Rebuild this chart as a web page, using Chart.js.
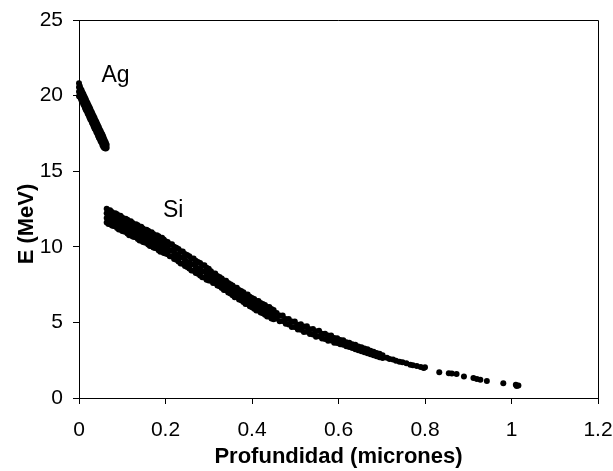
<!DOCTYPE html>
<html>
<head>
<meta charset="utf-8">
<script src="https://cdn.jsdelivr.net/npm/chart.js@4/dist/chart.umd.min.js"></script>
<style>
html,body{margin:0;padding:0;background:#fff;}
#wrap{width:613px;height:471px;}
</style>
</head>
<body>
<div id="wrap"><canvas id="c" width="613" height="471"></canvas></div>
<script>
// ---- data ----
const xTickLabels = ['0','0.2','0.4','0.6','0.8','1','1.2'];
const yTickLabels = ['0','5','10','15','20','25'];
const xTitle = 'Profundidad (micrones)';
const yTitle = 'E (MeV)';

// Ag: [x, y1, y2, ...]
const agRows = [
[0.000,20.82,20.55,20.25,19.95],
[0.002,20.62,20.27,19.92],
[0.004,20.44,20.12,19.81],
[0.006,20.35,20.03,19.66],
[0.008,20.20,19.86,19.57],
[0.010,20.10,19.78,19.42],
[0.012,19.97,19.62,19.33],
[0.014,19.86,19.54,19.17],
[0.016,19.74,19.42,19.05],
[0.018,19.59,19.25,18.96],
[0.020,19.49,19.17,18.81],
[0.022,19.36,19.01,18.72],
[0.024,19.25,18.93,18.56],
[0.026,19.13,18.81,18.44],
[0.028,18.98,18.64,18.35],
[0.030,18.88,18.56,18.20],
[0.032,18.75,18.40,18.11],
[0.034,18.64,18.32,17.95],
[0.036,18.52,18.20,17.83],
[0.038,18.37,18.03,17.74],
[0.040,18.27,17.95,17.59],
[0.042,18.14,17.79,17.50],
[0.044,18.03,17.71,17.34],
[0.046,17.91,17.59,17.22],
[0.048,17.76,17.42,17.13],
[0.050,17.66,17.34,16.98],
[0.052,17.53,17.18,16.89],
[0.054,17.42,17.10,16.73],
[0.056,17.30,16.98,16.61],
[0.058,17.15,16.81,16.55],
[0.060,17.02,16.73,16.52],
[0.062,16.90,16.62,16.50],
[0.064,16.75,16.55]
];

// Si, first (thick) part
const siRowsA = [
[0.064,12.52,12.22,11.90,11.61],
[0.068,12.40,12.12,11.85,11.50],
[0.072,12.42,12.12,11.82,11.51],
[0.076,12.30,11.98,11.68,11.41],
[0.080,12.19,11.98,11.68,11.38],
[0.084,12.22,11.89,11.58,11.36],
[0.088,12.15,11.85,11.53,11.24],
[0.092,12.04,11.76,11.49,11.14],
[0.096,12.06,11.76,11.46,11.15],
[0.100,11.94,11.62,11.32,11.05],
[0.104,11.83,11.62,11.32,11.02],
[0.108,11.86,11.53,11.22,11.00],
[0.112,11.79,11.49,11.17,10.88],
[0.116,11.67,11.39,11.12,10.77],
[0.120,11.69,11.39,11.09,10.78],
[0.124,11.57,11.25,10.95,10.68],
[0.128,11.46,11.25,10.95,10.65],
[0.132,11.49,11.16,10.85,10.63],
[0.136,11.42,11.12,10.80,10.51],
[0.140,11.31,11.03,10.76,10.41],
[0.144,11.33,11.03,10.73,10.42],
[0.148,11.21,10.89,10.59,10.32],
[0.152,11.10,10.89,10.59,10.29],
[0.156,11.13,10.80,10.49,10.27],
[0.160,11.06,10.76,10.44,10.15],
[0.164,10.95,10.67,10.40,10.05],
[0.168,10.96,10.66,10.36,10.05],
[0.172,10.84,10.52,10.22,9.95],
[0.176,10.73,10.52,10.22,9.92],
[0.180,10.76,10.43,10.12,9.90],
[0.184,10.69,10.39,10.07,9.78],
[0.188,10.58,10.30,10.03,9.68],
[0.192,10.60,10.30,10.00,9.69],
[0.196,10.48,10.16,9.86,9.59],
[0.200,10.37,10.16,9.86,9.56]
];

// Si, middle part
const siRowsB = [
[0.205,10.32,9.92,9.50],
[0.210,10.17,9.78,9.37],
[0.215,10.17,9.77,9.36],
[0.220,10.00,9.62,9.20],
[0.225,9.93,9.48,9.15],
[0.230,9.85,9.45,9.03],
[0.235,9.70,9.31,8.90],
[0.240,9.69,9.29,8.88],
[0.245,9.53,9.15,8.73],
[0.250,9.45,9.00,8.67],
[0.255,9.38,8.98,8.56],
[0.260,9.23,8.84,8.43],
[0.265,9.23,8.83,8.42],
[0.270,9.07,8.69,8.27],
[0.275,9.00,8.55,8.22],
[0.280,8.93,8.53,8.11],
[0.285,8.78,8.39,7.98],
[0.290,8.78,8.38,7.97],
[0.295,8.62,8.24,7.82],
[0.300,8.55,8.10,7.77],
[0.305,8.39,8.08,7.75],
[0.310,8.24,7.93,7.61],
[0.315,8.23,7.91,7.60],
[0.320,8.07,7.77,7.44],
[0.325,8.00,7.64,7.39],
[0.330,7.91,7.60,7.27],
[0.335,7.77,7.46,7.14],
[0.340,7.75,7.43,7.12],
[0.345,7.60,7.30,6.97],
[0.350,7.52,7.16,6.91],
[0.355,7.44,7.13,6.80],
[0.360,7.30,6.99,6.67],
[0.365,7.29,6.97,6.66],
[0.370,7.14,6.84,6.51],
[0.375,7.07,6.71,6.46],
[0.380,6.99,6.68,6.35],
[0.385,6.85,6.54,6.22],
[0.390,6.84,6.52,6.21],
[0.395,6.69,6.39,6.06],
[0.400,6.62,6.26,6.01],
[0.405,6.55,6.24,5.91],
[0.410,6.42,6.11,5.79],
[0.415,6.42,6.10,5.79],
[0.420,6.28,5.98,5.65],
[0.425,6.22,5.86,5.61],
[0.430,6.15,5.84,5.51],
[0.435,6.02,5.71,5.39],
[0.440,6.02,5.70,5.39],
[0.445,5.88,5.58,5.25],
[0.450,5.82,5.46,5.21]
];

// Si, thinner part
const siRowsC = [
[0.457,5.62,5.25],
[0.464,5.45,5.08],
[0.471,5.46,5.09],
[0.478,5.23,4.91],
[0.485,5.23,4.86],
[0.492,5.06,4.69],
[0.499,5.06,4.69],
[0.506,4.85,4.53],
[0.513,4.88,4.51],
[0.520,4.73,4.36],
[0.527,4.75,4.38],
[0.534,4.55,4.23],
[0.541,4.57,4.20],
[0.548,4.42,4.05],
[0.555,4.45,4.08],
[0.562,4.25,3.93],
[0.569,4.25,3.91],
[0.576,4.14,3.79],
[0.583,4.14,3.80],
[0.590,3.97,3.65],
[0.597,3.95,3.63],
[0.604,3.83,3.56],
[0.611,3.82,3.52],
[0.618,3.69,3.42],
[0.625,3.66,3.37],
[0.632,3.56,3.30],
[0.639,3.52,3.23],
[0.646,3.41,3.16],
[0.653,3.36,3.10],
[0.660,3.27,3.03],
[0.667,3.22,2.96],
[0.674,3.12,2.90],
[0.681,3.06,2.82],
[0.688,2.97,2.76],
[0.695,2.92,2.69],
[0.702,2.82,2.64]
];

// Si, sparse tail
const siTail = [
[0.712,2.66],[0.718,2.58],[0.726,2.55],[0.733,2.47],[0.741,2.40],
[0.748,2.36],[0.757,2.30],[0.766,2.20],[0.772,2.16],[0.781,2.12],
[0.790,2.05],[0.797,1.98],[0.800,2.03],[0.833,1.70],[0.855,1.64],
[0.862,1.62],[0.873,1.58],[0.890,1.42],[0.912,1.32],[0.920,1.26],
[0.928,1.20],[0.943,1.12],[0.981,0.97],[1.010,0.87],[1.016,0.82],
[1.012,0.80]
];

// in-plot labels (data coordinates)
const textLabels = [
  {text:'Ag', x:0.052, y:20.92},
  {text:'Si', x:0.194, y:11.95}
];

// ---- build ----
const toPoints = rows => rows.flatMap(r => r.slice(1).map(v => ({x:r[0], y:v})));
const agData = toPoints(agRows);
const siData = [].concat(toPoints(siRowsA), toPoints(siRowsB), toPoints(siRowsC), toPoints(siTail));

const FONT = '"Liberation Sans", Arial, sans-serif';

const overlay = {
  id:'overlay',
  afterDatasetsDraw(chart){
    const {ctx, chartArea:a, scales:{x, y}} = chart;
    ctx.save();
    ctx.strokeStyle = '#000';
    ctx.lineWidth = 1;
    ctx.beginPath();
    ctx.moveTo(a.left, Math.round(a.top) + 0.5);
    ctx.lineTo(Math.round(a.right) + 0.5, Math.round(a.top) + 0.5);
    ctx.lineTo(Math.round(a.right) + 0.5, a.bottom);
    ctx.stroke();
    ctx.fillStyle = '#000';
    ctx.font = '23px ' + FONT;
    ctx.textAlign = 'left';
    ctx.textBaseline = 'alphabetic';
    for (const t of textLabels) {
      ctx.fillText(t.text, x.getPixelForValue(t.x), y.getPixelForValue(t.y));
    }
    // y axis title (rotated), a little below the middle of the axis as in the reference
    ctx.font = 'bold 22px ' + FONT;
    ctx.textAlign = 'center';
    ctx.textBaseline = 'middle';
    ctx.translate(27, (a.top + a.bottom) / 2 + 15);
    ctx.rotate(-Math.PI / 2);
    ctx.fillText(yTitle, 0, 0);
    ctx.restore();
  }
};

const axisCommon = {
  grid:{display:true, drawOnChartArea:false, drawTicks:true, tickLength:6, color:'#000', lineWidth:1},
  border:{display:true, color:'#000', width:1}
};

new Chart(document.getElementById('c'), {
  type:'scatter',
  data:{datasets:[
    {label:'Ag', data:agData, backgroundColor:'#000', borderColor:'#000', pointRadius:3, pointBorderWidth:0, clip:false},
    {label:'Si', data:siData, backgroundColor:'#000', borderColor:'#000', pointRadius:3, pointBorderWidth:0, clip:false}
  ]},
  options:{
    responsive:false,
    devicePixelRatio:1,
    animation:false,
    events:[],
    layout:{padding:{left:0, right:15, top:20, bottom:0}},
    plugins:{legend:{display:false}, tooltip:{enabled:false}},
    scales:{
      x:{
        type:'linear', min:0, max:1.2,
        ...axisCommon,
        ticks:{stepSize:0.2, color:'#000', font:{family:FONT, size:21}, padding:14, maxRotation:0,
               callback:(v,i)=>xTickLabels[i]},
        title:{display:true, text:xTitle, color:'#000', font:{family:FONT, size:22, weight:'bold'}, padding:{top:0, bottom:1}},
        afterFit:(s)=>{ s.height = 73; s.paddingLeft = 0; s.paddingRight = 0; }
      },
      y:{
        type:'linear', min:0, max:25,
        ...axisCommon,
        ticks:{stepSize:5, color:'#000', font:{family:FONT, size:21}, padding:10,
               callback:(v,i)=>yTickLabels[i]},
        title:{display:false},
        afterFit:(s)=>{ s.width = 79; s.paddingTop = 0; s.paddingBottom = 0; }
      }
    }
  },
  plugins:[overlay]
});
</script>
</body>
</html>
